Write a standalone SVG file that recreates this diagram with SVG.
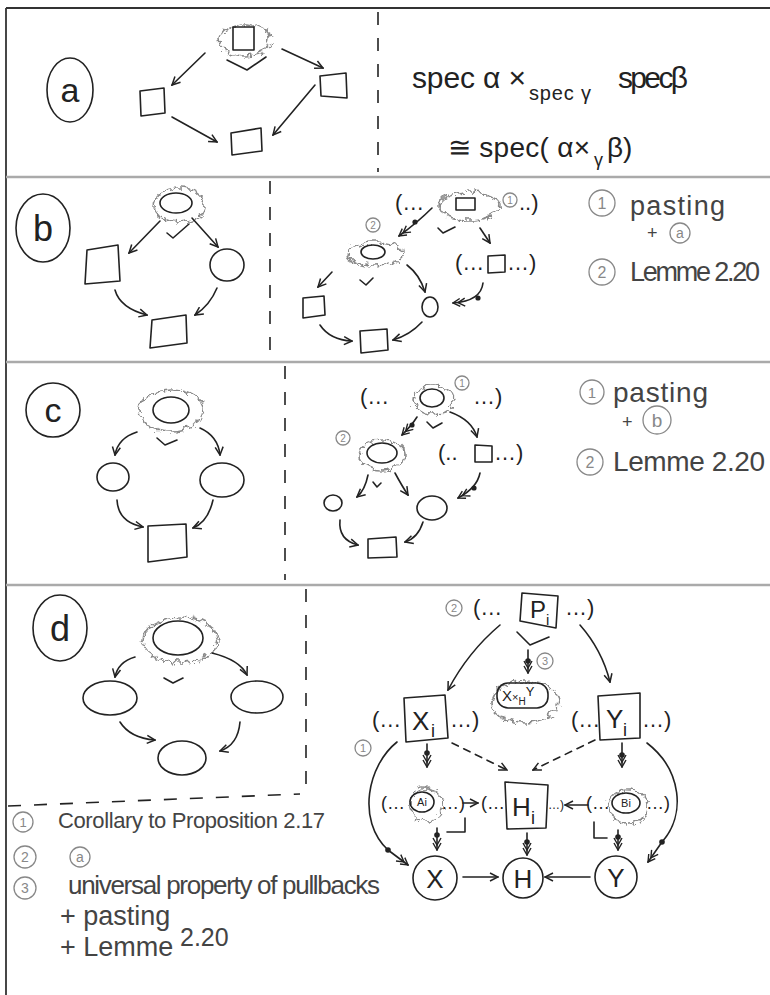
<svg xmlns="http://www.w3.org/2000/svg" width="770" height="995" viewBox="0 0 770 995">
<defs>
<style>
.ln{fill:none;stroke:#222;stroke-width:1.6;stroke-linecap:round;stroke-linejoin:round}
.cl{fill:none;stroke:#8a8a8a;stroke-width:1.6;filter:url(#wob)}
.gc{fill:none;stroke:#888;stroke-width:1.3}
.sep{fill:none;stroke:#aaa;stroke-width:2.5}
.dsh{fill:none;stroke:#222;stroke-width:1.6;stroke-dasharray:13 13}
.t{font-family:"Liberation Sans",Arial,sans-serif;fill:#222}
.n{font-family:"Liberation Sans",Arial,sans-serif;fill:#444}
.gt{font-family:"Liberation Sans",Arial,sans-serif;fill:#888;text-anchor:middle}
.ct{font-family:"Liberation Sans",Arial,sans-serif;fill:#222;text-anchor:middle}
.dot{fill:#222}
</style>
<filter id="wob" x="-30%" y="-30%" width="160%" height="160%">
<feTurbulence type="turbulence" baseFrequency="0.11" numOctaves="1" seed="7"/>
<feDisplacementMap in="SourceGraphic" scale="9" xChannelSelector="R" yChannelSelector="G"/>
</filter>
<marker id="ah" viewBox="0 0 10 10" refX="9" refY="5" markerWidth="10" markerHeight="10" markerUnits="userSpaceOnUse" orient="auto"><path d="M1,1 L9,5 L1,9" fill="none" stroke="#222" stroke-width="1.5"/></marker>
<marker id="ah2" viewBox="0 0 14 10" refX="13" refY="5" markerWidth="14" markerHeight="10" markerUnits="userSpaceOnUse" orient="auto"><path d="M1,1 L8,5 L1,9 M6,1 L13,5 L6,9" fill="none" stroke="#222" stroke-width="1.4"/></marker>
</defs>
<rect width="770" height="995" fill="#fff"/>

<g id="frame">
<path d="M6,8 L770,8 M6,8 L6,995" fill="none" stroke="#333" stroke-width="1.8"/>
<path class="sep" d="M6,177 L770,177 M6,362 L770,362 M6,585 L770,585"/>
<path class="dsh" d="M378,12 L378,172 M270,181 L270,360 M285,366 L285,580 M306,589 L306,790 M8,806 L300,794"/>
</g>

<!-- Section a -->
<g id="label-a"><ellipse class="ln" cx="70" cy="90" rx="23" ry="32"/><text class="ct" x="70" y="102" font-size="34">a</text></g>
<g id="a-top"><ellipse class="cl" cx="242" cy="37" rx="26" ry="16"/><rect class="ln" x="233" y="27" width="21" height="23" stroke-width="2"/></g>
<g id="a-left"><polygon class="ln" points="140,91 164,88 165,113 141,116"/></g>
<g id="a-right"><polygon class="ln" points="320,76 346,73 347,98 321,96"/></g>
<g id="a-bottom"><polygon class="ln" points="231,133 261,128 262,151 232,155"/></g>
<g id="formula">
<text class="t" x="412" y="88" font-size="30" textLength="114">spec α ×</text>
<text class="t" x="529" y="100" font-size="20" textLength="62">spec γ</text>
<text class="t" x="618" y="88" font-size="30" textLength="70">specβ</text>
<text class="t" x="448" y="157" font-size="28" textLength="142">≅ spec( α×</text>
<text class="t" x="594" y="166" font-size="18">γ</text>
<text class="t" x="607" y="157" font-size="28">β)</text>
</g>

<!-- Section b -->
<g id="label-b"><ellipse class="ln" cx="43" cy="228" rx="27" ry="34"/><text class="ct" x="43" y="241" font-size="36">b</text></g>
<g id="b-top"><ellipse class="cl" cx="176" cy="202" rx="26" ry="17"/><ellipse class="ln" cx="176" cy="203" rx="16" ry="10" stroke-width="2"/></g>
<g id="b-left"><polygon class="ln" points="87,250 118,245 120,281 85,284"/></g>
<g id="b-right"><ellipse class="ln" cx="227" cy="265" rx="17" ry="16"/></g>
<g id="b-bottom"><polygon class="ln" points="152,320 186,315 187,343 150,348"/></g>

<g id="b2-top"><text class="t" x="395" y="210" font-size="22">(…</text><ellipse class="cl" cx="466" cy="203" rx="31" ry="14"/><rect class="ln" x="456" y="198" width="19" height="12"/><circle class="gc" cx="510" cy="200" r="7"/><text class="gt" x="510" y="204" font-size="10">1</text><text class="t" x="519" y="210" font-size="22">..)</text></g>
<g id="b2-mid"><circle class="gc" cx="373" cy="225" r="7"/><text class="gt" x="373" y="229" font-size="10">2</text><ellipse class="cl" cx="372" cy="251" rx="28" ry="12"/><ellipse class="ln" cx="373" cy="252" rx="12" ry="7" stroke-width="2"/></g>
<g id="b2-right"><text class="t" x="455" y="270" font-size="22">(…</text><polygon class="ln" points="488,256 505,255 505,272 488,273"/><text class="t" x="507" y="270" font-size="22">…)</text></g>
<g id="b2-sq"><polygon class="ln" points="303,298 324,296 325,315 303,318"/></g>
<g id="b2-circ"><ellipse class="ln" cx="430" cy="307" rx="8" ry="10"/></g>
<g id="b2-bottom"><polygon class="ln" points="360,331 387,329 388,350 361,353"/></g>
<g id="notes-b">
<circle class="gc" cx="602" cy="203" r="13"/><text class="gt" x="602" y="209" font-size="16">1</text>
<text class="n" x="630" y="215" font-size="27" textLength="95">pasting</text>
<text class="n" x="647" y="239" font-size="18">+</text>
<circle class="gc" cx="680" cy="233" r="10"/><text class="gt" x="680" y="238" font-size="14">a</text>
<circle class="gc" cx="602" cy="272" r="13"/><text class="gt" x="602" y="278" font-size="16">2</text>
<text class="n" x="630" y="281" font-size="27" textLength="130">Lemme 2.20</text>
</g>

<!-- Section c -->
<g id="label-c"><ellipse class="ln" cx="53" cy="410" rx="27" ry="27"/><text class="ct" x="53" y="422" font-size="34">c</text></g>
<g id="c-top"><ellipse class="cl" cx="168" cy="407" rx="32" ry="21"/><ellipse class="ln" cx="171" cy="410" rx="18" ry="13" stroke-width="2"/></g>
<g id="c-left"><ellipse class="ln" cx="113" cy="477" rx="16" ry="14"/></g>
<g id="c-right"><ellipse class="ln" cx="222" cy="480" rx="22" ry="17"/></g>
<g id="c-bottom"><polygon class="ln" points="148,526 186,524 187,557 148,562"/></g>

<g id="c2-top"><text class="t" x="360" y="404" font-size="22">(…</text><ellipse class="cl" cx="430" cy="397" rx="20" ry="14"/><ellipse class="ln" cx="432" cy="398" rx="12" ry="9" stroke-width="2"/><circle class="gc" cx="462" cy="383" r="7"/><text class="gt" x="462" y="387" font-size="10">1</text><text class="t" x="473" y="404" font-size="22">…)</text></g>
<g id="c2-mid"><circle class="gc" cx="343" cy="438" r="7"/><text class="gt" x="343" y="442" font-size="10">2</text><ellipse class="cl" cx="379" cy="452" rx="23" ry="15"/><ellipse class="ln" cx="382" cy="453" rx="15" ry="10" stroke-width="2"/></g>
<g id="c2-right"><text class="t" x="438" y="460" font-size="22">(..</text><polygon class="ln" points="475,445 492,446 492,462 475,462"/><text class="t" x="494" y="460" font-size="22">…)</text></g>
<g id="c2-left"><ellipse class="ln" cx="333" cy="503" rx="9" ry="8"/></g>
<g id="c2-circ"><ellipse class="ln" cx="432" cy="508" rx="15" ry="12"/></g>
<g id="c2-bottom"><polygon class="ln" points="368,539 396,537 397,557 368,558"/></g>
<g id="notes-c">
<circle class="gc" cx="592" cy="392" r="12"/><text class="gt" x="592" y="398" font-size="15">1</text>
<text class="n" x="613" y="402" font-size="28" textLength="95">pasting</text>
<text class="n" x="622" y="428" font-size="18">+</text>
<circle class="gc" cx="657" cy="420" r="14"/><text class="gt" x="657" y="427" font-size="19">b</text>
<circle class="gc" cx="590" cy="462" r="13"/><text class="gt" x="590" y="468" font-size="16">2</text>
<text class="n" x="613" y="471" font-size="28" textLength="152">Lemme 2.20</text>
</g>

<!-- Section d -->
<g id="label-d"><ellipse class="ln" cx="60" cy="628" rx="27" ry="33"/><text class="ct" x="60" y="641" font-size="36">d</text></g>
<g id="d-top"><ellipse class="cl" cx="177" cy="637" rx="38" ry="23"/><ellipse class="ln" cx="178" cy="638" rx="25" ry="17" stroke-width="2"/></g>
<g id="d-left"><ellipse class="ln" cx="110" cy="698" rx="27" ry="17"/></g>
<g id="d-right"><ellipse class="ln" cx="257" cy="697" rx="26" ry="16"/></g>
<g id="d-bottom"><ellipse class="ln" cx="182" cy="758" rx="24" ry="17"/></g>

<g id="d-Pi"><circle class="gc" cx="454" cy="608" r="8"/><text class="gt" x="454" y="612" font-size="11">2</text><text class="t" x="473" y="615" font-size="22">(…</text><polygon class="ln" points="522,593 558,596 556,628 520,621"/><text class="t" x="530" y="618" font-size="24">P</text><text class="t" x="546" y="625" font-size="15">i</text><text class="t" x="565" y="615" font-size="22">…)</text></g>
<g id="d-XHY"><circle class="gc" cx="545" cy="661" r="8"/><text class="gt" x="545" y="665" font-size="11">3</text><ellipse class="cl" cx="522" cy="699" rx="34" ry="21"/><rect class="ln" x="497" y="683" width="51" height="25" rx="11"/><text class="t" x="502" y="701" font-size="15">X<tspan font-size="11">×</tspan><tspan font-size="10" dy="4">H</tspan><tspan font-size="13" dy="-9">Y</tspan></text></g>
<g id="d-Xi"><text class="t" x="372" y="727" font-size="22">(…</text><polygon class="ln" points="404,698 445,695 448,738 406,742"/><text class="t" x="412" y="730" font-size="26">X</text><text class="t" x="431" y="737" font-size="18">i</text><text class="t" x="450" y="727" font-size="22">…)</text></g>
<g id="d-Yi"><text class="t" x="571" y="727" font-size="22">(…</text><polygon class="ln" points="598,696 640,693 640,738 600,740"/><text class="t" x="606" y="728" font-size="26">Y</text><text class="t" x="623" y="736" font-size="18">i</text><text class="t" x="642" y="727" font-size="22">…)</text></g>
<g id="d-note1"><circle class="gc" cx="363" cy="748" r="8"/><text class="gt" x="363" y="752" font-size="11">1</text></g>
<g id="d-Ai"><text class="t" x="381" y="809" font-size="18">(…</text><ellipse class="cl" cx="423" cy="802" rx="17" ry="17"/><ellipse class="ln" cx="422" cy="802" rx="12" ry="10"/><text class="ct" x="422" y="806" font-size="11">Ai</text><text class="t" x="441" y="809" font-size="18">…)</text></g>
<g id="d-Hi"><text class="t" x="481" y="809" font-size="18">(…</text><polygon class="ln" points="505,782 548,785 546,828 507,829"/><text class="t" x="512" y="816" font-size="26">H</text><text class="t" x="531" y="824" font-size="18">i</text><text class="t" x="548" y="809" font-size="12">…)</text></g>
<g id="d-Bi"><text class="t" x="586" y="809" font-size="18">(…</text><ellipse class="cl" cx="625" cy="803" rx="20" ry="17"/><ellipse class="ln" cx="626" cy="803" rx="14" ry="10"/><text class="ct" x="626" y="807" font-size="11">Bi</text><text class="t" x="646" y="809" font-size="18">…)</text></g>
<g id="d-X"><circle class="ln" cx="435" cy="878" r="22"/><text class="ct" x="435" y="888" font-size="26">X</text></g>
<g id="d-H"><circle class="ln" cx="523" cy="878" r="20"/><text class="ct" x="523" y="888" font-size="26">H</text></g>
<g id="d-Y"><circle class="ln" cx="616" cy="877" r="21"/><text class="ct" x="616" y="887" font-size="26">Y</text></g>
<g id="notes-d">
<circle class="gc" cx="23" cy="822" r="10"/><text class="gt" x="23" y="827" font-size="13">1</text>
<text class="n" x="58" y="828" font-size="22" textLength="267">Corollary to Proposition 2.17</text>
<circle class="gc" cx="25" cy="857" r="11"/><text class="gt" x="25" y="862" font-size="14">2</text>
<circle class="gc" cx="80" cy="857" r="10"/><text class="gt" x="80" y="862" font-size="14">a</text>
<circle class="gc" cx="25" cy="888" r="11"/><text class="gt" x="25" y="893" font-size="14">3</text>
<text class="n" x="68" y="894" font-size="26" textLength="312">universal property of pullbacks</text>
<text class="n" x="60" y="925" font-size="27">+ pasting</text>
<text class="n" x="60" y="956" font-size="27">+ Lemme</text>
<text class="n" x="180" y="946" font-size="25">2.20</text>
</g>

<g id="connectors">
<path class="ln" d="M205,53 L172,85" marker-end="url(#ah)"/>
<path class="ln" d="M282,49 L323,68" marker-end="url(#ah)"/>
<path class="ln" d="M172,117 L217,142" marker-end="url(#ah)"/>
<path class="ln" d="M315,85 L273,135" marker-end="url(#ah)"/>
<polyline class="ln" points="227,60 247,70 266,57"/>
<path class="ln" d="M160,221 L129,253" marker-end="url(#ah)"/>
<path class="ln" d="M192,218 L218,247" marker-end="url(#ah)"/>
<path class="ln" d="M115,290 Q120,308 147,315" marker-end="url(#ah)"/>
<path class="ln" d="M217,288 Q210,305 195,315" marker-end="url(#ah)"/>
<polyline class="ln" points="167,233 173,238 189,224"/>
<path class="ln" d="M432,208 Q418,222 399,236" marker-end="url(#ah2)"/><circle class="dot" cx="415" cy="222" r="2.6"/>
<polyline class="ln" points="438,228 443,233 455,227"/>
<path class="ln" d="M480,228 L490,243" marker-end="url(#ah)"/>
<path class="ln" d="M483,283 Q481,301 453,303" marker-end="url(#ah2)"/><circle class="dot" cx="478" cy="298" r="2.6"/>
<path class="ln" d="M332,272 L318,287" marker-end="url(#ah)"/>
<polyline class="ln" points="360,280 366,285 373,278"/>
<path class="ln" d="M407,265 Q420,275 425,292" marker-end="url(#ah)"/>
<path class="ln" d="M320,325 Q330,340 352,341" marker-end="url(#ah)"/>
<path class="ln" d="M422,322 Q410,335 393,340" marker-end="url(#ah)"/>
<path class="ln" d="M137,432 Q118,438 115,455" marker-end="url(#ah)"/>
<path class="ln" d="M200,428 Q218,436 220,455" marker-end="url(#ah)"/>
<polyline class="ln" points="157,438 165,445 177,440"/>
<path class="ln" d="M117,500 Q118,522 143,527" marker-end="url(#ah)"/>
<path class="ln" d="M213,500 Q208,522 193,528" marker-end="url(#ah)"/>
<path class="ln" d="M417,417 Q412,425 402,435" marker-end="url(#ah2)"/><circle class="dot" cx="412" cy="425" r="2.6"/>
<polyline class="ln" points="427,422 433,428 442,423"/>
<path class="ln" d="M450,412 Q472,420 477,437" marker-end="url(#ah)"/>
<path class="ln" d="M480,473 Q477,488 458,498" marker-end="url(#ah2)"/><circle class="dot" cx="474" cy="488" r="2.6"/>
<path class="ln" d="M368,475 Q365,490 357,497" marker-end="url(#ah)"/>
<polyline class="ln" points="373,482 377,487 381,483"/>
<path class="ln" d="M395,473 Q402,486 408,495" marker-end="url(#ah)"/>
<path class="ln" d="M340,520 Q338,540 358,545" marker-end="url(#ah)"/>
<path class="ln" d="M423,522 Q418,538 405,542" marker-end="url(#ah)"/>
<path class="ln" d="M135,657 Q118,662 115,677" marker-end="url(#ah)"/>
<path class="ln" d="M212,653 Q240,660 247,675" marker-end="url(#ah)"/>
<polyline class="ln" points="164,678 173,683 183,678"/>
<path class="ln" d="M120,722 Q130,738 155,740" marker-end="url(#ah)"/>
<path class="ln" d="M240,722 Q238,745 220,751" marker-end="url(#ah)"/>
<polyline class="ln" points="517,632 530,645 549,637"/>
<path class="ln" d="M528,650 L528,673" marker-end="url(#ah2)"/><circle class="dot" cx="528" cy="661" r="2.8"/>
<path class="ln" d="M500,625 Q468,652 448,690" marker-end="url(#ah)"/>
<path class="ln" d="M580,625 Q602,650 610,682" marker-end="url(#ah)"/>
<path class="ln" d="M452,743 L507,770" stroke-dasharray="7 6" marker-end="url(#ah)"/>
<path class="ln" d="M595,740 L533,770" stroke-dasharray="7 6" marker-end="url(#ah)"/>
<path class="ln" d="M427,744 L427,767" marker-end="url(#ah2)"/><circle class="dot" cx="427" cy="753" r="2.8"/>
<path class="ln" d="M622,743 L622,767" marker-end="url(#ah2)"/><circle class="dot" cx="622" cy="755" r="2.8"/>
<path class="ln" d="M463,803 L478,803" marker-end="url(#ah)"/>
<path class="ln" d="M588,805 L565,805" marker-end="url(#ah)"/>
<polyline class="ln" points="447,832 465,832 465,818"/>
<polyline class="ln" points="594,822 594,838 607,838"/>
<path class="ln" d="M437,828 L437,850" marker-end="url(#ah2)"/><circle class="dot" cx="437" cy="835" r="2.8"/>
<path class="ln" d="M527,833 L527,855" marker-end="url(#ah2)"/><circle class="dot" cx="527" cy="842" r="2.8"/>
<path class="ln" d="M618,830 L618,850" marker-end="url(#ah2)"/><circle class="dot" cx="618" cy="837" r="2.8"/>
<path class="ln" d="M463,877 L498,877" marker-end="url(#ah)"/>
<path class="ln" d="M590,877 L545,877" marker-end="url(#ah)"/>
<path class="ln" d="M397,742 C368,765 356,820 388,850 L408,865" marker-end="url(#ah2)"/><circle class="dot" cx="388" cy="850" r="2.8"/>
<path class="ln" d="M647,743 C682,770 686,815 662,842 L648,862" marker-end="url(#ah2)"/><circle class="dot" cx="662" cy="842" r="2.8"/>
</g>
</svg>
